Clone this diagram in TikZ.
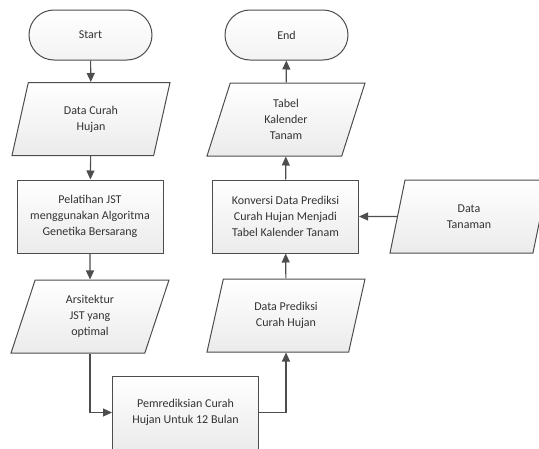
\documentclass[tikz,border=0pt]{standalone}
\usepackage{fontspec}
\setmainfont{Carlito}
\usepackage{tikz}
\usetikzlibrary{arrows.meta,shapes.geometric}
\definecolor{garis}{HTML}{4D4D4D}
\definecolor{isi}{HTML}{EBEBEB}

\begin{document}
\begin{tikzpicture}[
  font=\fontsize{12bp}{16bp}\selectfont,
  every node/.style={text=black!80, align=center},
  term/.style={draw=garis, line width=1bp, rectangle, rounded corners=25bp, minimum width=123bp, minimum height=50bp, top color=white, bottom color=isi!60},
  proc/.style={draw=garis, line width=1bp, rectangle, minimum width=146bp, minimum height=73bp, top color=white, bottom color=isi},
  io/.style={draw=garis, line width=1bp, trapezium, trapezium left angle=63.7, trapezium right angle=116.3, trapezium stretches body, minimum width=158bp, minimum height=73bp, top color=white, bottom color=isi},
  panah/.style={-{Triangle[length=9bp,width=8bp]}, draw=garis, line width=1.1bp}
]
\clip (0bp,0bp) rectangle (539bp,-449bp);
\node (start) at (90.5bp,-35bp)[term] {Start};
\node (end) at (286.5bp,-35bp)[term] {End};
\node (dCurah) at (91bp,-119bp)[io] {Data Curah\\Hujan};
\node (latih) at (90bp,-216.5bp)[proc] {Pelatihan JST\\menggunakan Algoritma\\Genetika Bersarang};
\node (arsitektur) at (90bp,-316.5bp)[io] {Arsitektur\\JST yang\\optimal};
\node (prediksi) at (185.5bp,-412.5bp)[proc] {Pemrediksian Curah\\Hujan Untuk 12 Bulan};
\node (dPrediksi) at (286bp,-315.5bp)[io] {Data Prediksi\\Curah Hujan};
\node (konversi) at (285.5bp,-216.5bp)[proc] {Konversi Data Prediksi\\Curah Hujan Menjadi\\Tabel Kalender Tanam};
\node (tabel) at (286bp,-119.5bp)[io] {Tabel\\Kalender\\Tanam};
\node (dTanam) at (469bp,-216.5bp)[io] {Data\\Tanaman};
\draw [panah] (start) -- (dCurah);
\draw [panah] (dCurah) -- (latih);
\draw [panah] (latih) -- (arsitektur);
\draw [panah] (arsitektur) |- (prediksi);
\draw [panah] (prediksi) -| (dPrediksi);
\draw [panah] (dPrediksi) -- (konversi);
\draw [panah] (konversi) -- (tabel);
\draw [panah] (tabel) -- (end);
\draw [panah] (dTanam) -- (konversi);
\end{tikzpicture}
\end{document}
